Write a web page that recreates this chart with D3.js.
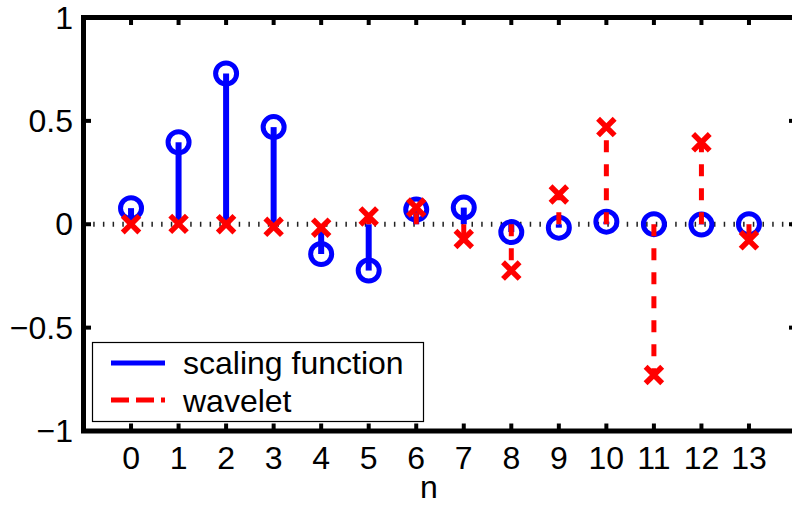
<!DOCTYPE html>
<html>
<head>
<meta charset="utf-8">
<script src="https://cdn.jsdelivr.net/npm/d3@7"></script>
<style>
  html, body { margin: 0; padding: 0; background: #fff; }
  svg { display: block; }
  text { font-family: "Liberation Sans", Arial, Helvetica, sans-serif; fill: #000; }
</style>
</head>
<body>
<svg id="chart" width="792" height="505"></svg>
<script>
// Filter taps, n = 0..13
const taps = d3.range(14);
const scaling = [0.0779, 0.3965, 0.7291, 0.4698, -0.1439, -0.2240, 0.0713, 0.0806,
                 -0.0380, -0.0166, 0.0126, 0.0004, -0.0018, 0.0004];
const wavelet = [0.0004, 0.0018, 0.0004, -0.0126, -0.0166, 0.0380, 0.0806, -0.0713,
                 -0.2240, 0.1439, 0.4698, -0.7291, 0.3965, -0.0779];
const xTicks = d3.range(14);
const yTicks = [-1, -0.5, 0, 0.5, 1];
const yTickLabels = ["\u22121", "\u22120.5", "0", "0.5", "1"];
const legendLabels = ["scaling function", "wavelet"];

const svg = d3.select("#chart");
const plotL = 83.5, plotR = 796.5, plotT = 17.5, plotB = 431;

const x = d3.scaleLinear().domain([-1, 14]).range([plotL, plotR]);
const y = d3.scaleLinear().domain([-1, 1]).range([plotB, plotT]);

const blue = "#0000ff", red = "#ff0000";
const fontSize = 32;

// dotted zero baseline
svg.append("line")
  .attr("x1", plotL).attr("x2", plotR)
  .attr("y1", y(0)).attr("y2", y(0))
  .attr("stroke", "#222").attr("stroke-width", 5)
  .attr("stroke-dasharray", "1.5,8.2");

// scaling function stems + circle markers
const gS = svg.append("g");
gS.selectAll("line").data(taps).join("line")
  .attr("x1", d => x(d)).attr("x2", d => x(d))
  .attr("y1", y(0)).attr("y2", d => y(scaling[d]))
  .attr("stroke", blue).attr("stroke-width", 6);
gS.selectAll("circle").data(taps).join("circle")
  .attr("cx", d => x(d)).attr("cy", d => y(scaling[d]))
  .attr("r", 10.5).attr("fill", "none")
  .attr("stroke", blue).attr("stroke-width", 5);

// wavelet stems (dashed) + cross markers
const gW = svg.append("g");
gW.selectAll("line").data(taps).join("line")
  .attr("x1", d => x(d)).attr("x2", d => x(d))
  .attr("y1", y(0)).attr("y2", d => y(wavelet[d]))
  .attr("stroke", red).attr("stroke-width", 5)
  .attr("stroke-dasharray", "12,12");
const s = 8.3;
gW.selectAll("path").data(taps).join("path")
  .attr("transform", d => `translate(${x(d)},${y(wavelet[d])})`)
  .attr("d", `M${-s},${-s}L${s},${s}M${-s},${s}L${s},${-s}`)
  .attr("stroke", red).attr("stroke-width", 5.5).attr("fill", "none");

// axes box
const axisW = 5;
const frame = svg.append("g").attr("stroke", "#000").attr("fill", "none");
frame.append("rect")
  .attr("x", plotL).attr("y", plotT)
  .attr("width", plotR - plotL).attr("height", plotB - plotT)
  .attr("stroke-width", axisW);

// inward ticks on all four sides
const tl = 5 + axisW / 2;
frame.selectAll("line.xb").data(xTicks).join("line").attr("class", "xb")
  .attr("x1", d => x(d)).attr("x2", d => x(d))
  .attr("y1", plotB).attr("y2", plotB - tl).attr("stroke-width", 4);
frame.selectAll("line.xt").data(xTicks).join("line").attr("class", "xt")
  .attr("x1", d => x(d)).attr("x2", d => x(d))
  .attr("y1", plotT).attr("y2", plotT + tl).attr("stroke-width", 4);
frame.selectAll("line.yl").data(yTicks).join("line").attr("class", "yl")
  .attr("x1", plotL).attr("x2", plotL + tl)
  .attr("y1", d => y(d)).attr("y2", d => y(d)).attr("stroke-width", 4);
frame.selectAll("line.yr").data(yTicks).join("line").attr("class", "yr")
  .attr("x1", plotR).attr("x2", plotR - tl)
  .attr("y1", d => y(d)).attr("y2", d => y(d)).attr("stroke-width", 4);

// tick labels
svg.append("g").selectAll("text").data(xTicks).join("text")
  .attr("x", d => x(d)).attr("y", 469)
  .attr("text-anchor", "middle").attr("font-size", fontSize)
  .text(d => String(d));
svg.append("g").selectAll("text").data(yTicks).join("text")
  .attr("x", 73).attr("y", d => y(d) + 11)
  .attr("text-anchor", "end").attr("font-size", fontSize)
  .text((d, i) => yTickLabels[i]);

// x axis title
svg.append("text")
  .attr("x", 429).attr("y", 498)
  .attr("text-anchor", "middle").attr("font-size", fontSize)
  .text("n");

// legend
const lg = svg.append("g");
lg.append("rect")
  .attr("x", 92.5).attr("y", 342.5).attr("width", 331).attr("height", 79)
  .attr("fill", "#fff").attr("stroke", "#000").attr("stroke-width", 1.2);
lg.append("line")
  .attr("x1", 111).attr("x2", 165).attr("y1", 363).attr("y2", 363)
  .attr("stroke", blue).attr("stroke-width", 5);
lg.append("line")
  .attr("x1", 111).attr("x2", 165).attr("y1", 400).attr("y2", 400)
  .attr("stroke", red).attr("stroke-width", 5)
  .attr("stroke-dasharray", "18,7");
lg.selectAll("text").data(legendLabels).join("text")
  .attr("x", 183).attr("y", (d, i) => 374 + i * 38)
  .attr("font-size", fontSize)
  .text(d => d);
</script>
</body>
</html>
